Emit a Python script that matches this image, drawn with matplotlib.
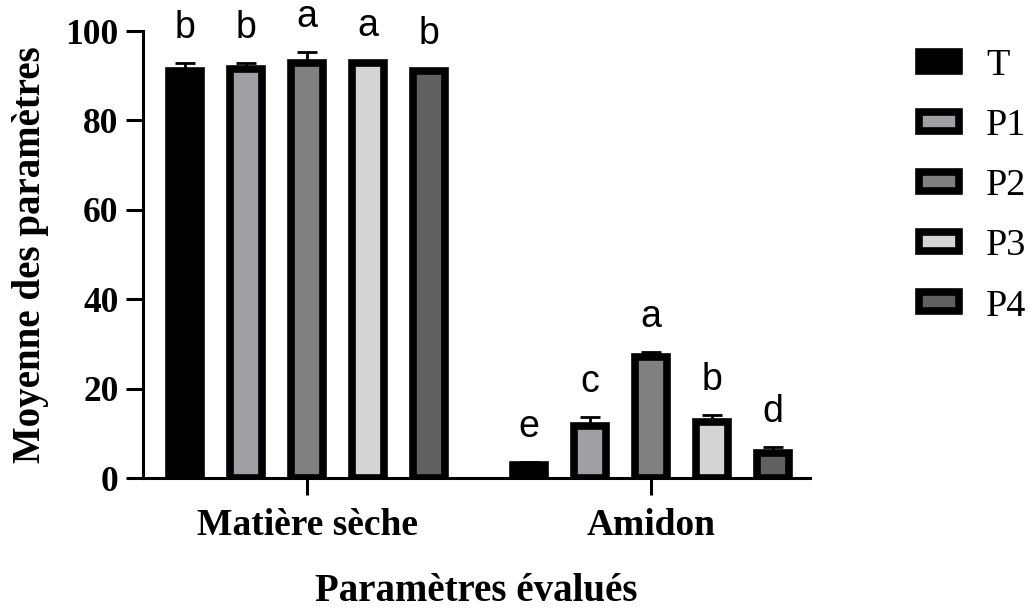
import numpy as np
import matplotlib.pyplot as plt

# données
groupes = ["Matière sèche", "Amidon"]
traitements = ["T", "P1", "P2", "P3", "P4"]
moyennes = {
    "T":  [91.0, 3.0],
    "P1": [91.5, 11.7],
    "P2": [92.9, 27.1],
    "P3": [92.9, 12.6],
    "P4": [91.0, 5.7],
}
erreurs = {
    "T":  [1.8, 0.5],
    "P1": [1.3, 2.0],
    "P2": [2.4, 1.2],
    "P3": [0.5, 1.5],
    "P4": [0.5, 1.3],
}
lettres = {
    "T":  ["b", "e"],
    "P1": ["b", "c"],
    "P2": ["a", "a"],
    "P3": ["a", "b"],
    "P4": ["b", "d"],
}
couleurs = ["#000000", "#A0A0A4", "#808080", "#D4D4D4", "#606060"]

fig = plt.figure(figsize=(10.34, 6.09), dpi=100)
ax = fig.add_axes([0.1383, 0.2151, 0.645, 0.7339])

x = np.arange(len(groupes))
pas = 0.1773
larg = 0.094
for i, t in enumerate(traitements):
    pos = x + (i - 2) * pas
    ax.bar(pos, moyennes[t], larg, color=couleurs[i], edgecolor="black",
           linewidth=5.5, label=t, zorder=2)
    ax.errorbar(pos, moyennes[t], yerr=[[0, 0], erreurs[t]], fmt="none",
                ecolor="black", elinewidth=2, capsize=7, capthick=2, zorder=3)
    for j in range(len(groupes)):
        ax.text(pos[j], moyennes[t][j] + erreurs[t][j] + 7.8, lettres[t][j],
                ha="center", va="center", fontsize=27, family="Liberation Sans")

ax.set_xlim(-0.477, 1.462)
ax.set_ylim(0, 100)
ax.set_yticks([0, 20, 40, 60, 80, 100])
ax.set_xticks(x)
ax.set_xticklabels(groupes)
for s in ["top", "right"]:
    ax.spines[s].set_visible(False)
for s in ["left", "bottom"]:
    ax.spines[s].set_linewidth(2.2)
ax.tick_params(width=2.2, length=12.5, labelsize=25.5, pad=5)
ax.tick_params(axis="x", labelsize=27, pad=9)
for lab in ax.get_yticklabels() + ax.get_xticklabels():
    lab.set_family("Liberation Serif")
    lab.set_fontweight("bold")
ax.set_ylabel("Moyenne des paramètres", fontsize=28, family="Liberation Serif",
              fontweight="bold", labelpad=12)
ax.set_xlabel("Paramètres évalués", fontsize=28, family="Liberation Serif",
              fontweight="bold", labelpad=22)

ax.legend(loc="upper left", bbox_to_anchor=(0.889, 0.92), bbox_transform=fig.transFigure,
          frameon=False, prop={"family": "Liberation Serif", "size": 27.5},
          handlelength=1.05, handleheight=0.39, handletextpad=0.7, labelspacing=0.67,
          borderaxespad=0, borderpad=0)

fig.savefig("out.png", dpi=100)
